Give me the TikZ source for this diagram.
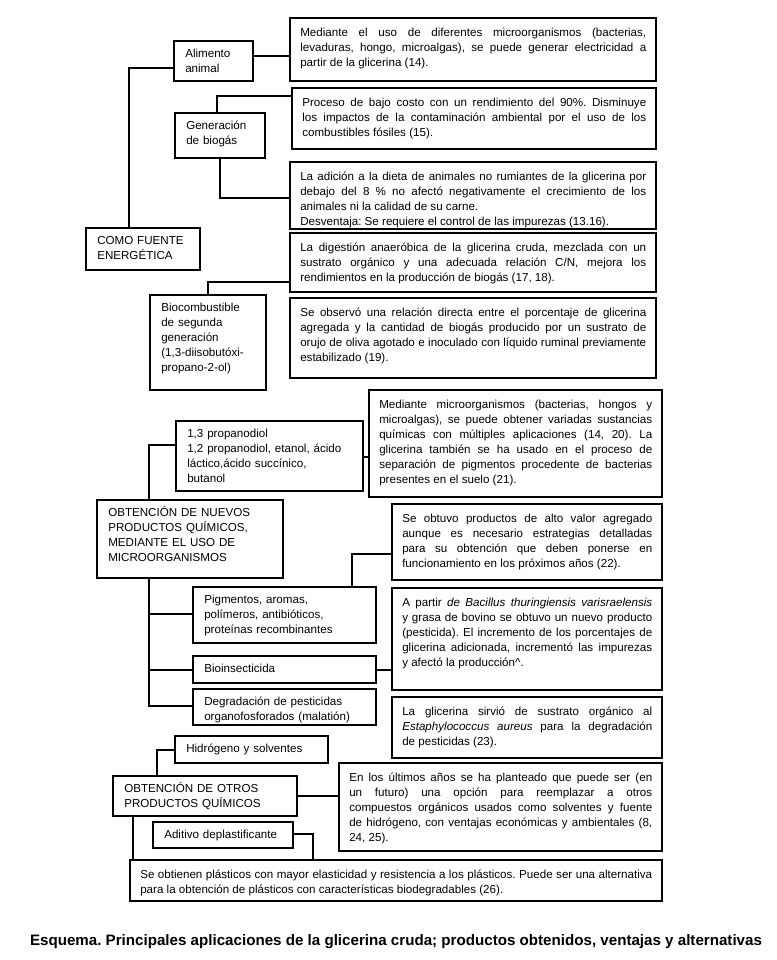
\documentclass[tikz,border=0pt]{standalone}
\usepackage{fontspec}
\usepackage{graphicx}
\setmainfont{Liberation Sans}
\usetikzlibrary{fit}
\hyphenpenalty=10000
\exhyphenpenalty=10000
\tolerance=9999
\frenchspacing
\tikzset{
  frame/.style={draw=black, line width=2pt, inner sep=0pt, rectangle},
  lframe/.style={draw=black, line width=1.8pt, inner sep=0pt, rectangle},
  txt/.style={inner sep=0pt, font=\fontsize{8.7}{11.2}\selectfont},
  conn/.style={draw=black, line width=2pt},
}
\newcommand\RBox[6]{%
  \node[frame, fit={(#2,#3)(#4,#5)}] (#1) {};
  \pgfmathsetlengthmacro\tw{(#4-#2-20)*0.75}%
  \node[txt, text width=\tw, align=justify, anchor=north west] (#1t) at (#2+10,#3+8) {\strut #6};
}
\newcommand\LBox[6]{%
  \node[lframe, fit={(#2,#3)(#4,#5)}] (#1) {};
  \pgfmathsetlengthmacro\tw{(#4-#2-16)*0.75}%
  \node[txt, text width=\tw, align=left, anchor=north west] (#1t) at (#2+11,#3+6) {\strut #6};
}
\begin{document}
\frenchspacing
\begin{tikzpicture}[x=0.75pt, y=-0.75pt]
\fill[white] (0,0) rectangle (776,960);
\useasboundingbox (0,0) rectangle (776,960);

\RBox{b1}{290}{18}{656}{81}{Mediante el uso de diferentes microorganismos (bacterias,\linebreak levaduras, hongo, microalgas), se puede generar electricidad a\linebreak partir de la glicerina (14).}
\LBox{alim}{174}{41}{253}{81}{Alimento\\animal}
\RBox{b2}{292}{88}{656}{149}{Proceso de bajo costo con un rendimiento del 90\%. Disminuye\linebreak los impactos de la contaminación ambiental por el uso de los\linebreak combustibles fósiles (15).}
\LBox{gen}{175}{113}{265}{158}{Generación\\de biogás}
\RBox{b3}{290}{162}{656}{229}{La adición a la dieta de animales no rumiantes de la glicerina por\linebreak debajo del 8 \% no afectó negativamente el crecimiento de los\linebreak animales ni la calidad de su carne.\newline Desventaja: Se requiere el control de las impurezas (13.16).}
\LBox{como}{86}{228}{200}{270}{COMO FUENTE\\ENERGÉTICA}
\RBox{b4}{290}{233}{656}{292}{La digestión anaeróbica de la glicerina cruda, mezclada con un\linebreak sustrato orgánico y una adecuada relación C/N, mejora los\linebreak rendimientos en la producción de biogás (17, 18).}
\LBox{bio}{150}{295}{266}{390}{Biocombustible\\de segunda\\generación\\(1,3-diisobutóxi-\\propano-2-ol)}
\RBox{b5}{290}{298}{656}{378}{Se observó una relación directa entre el porcentaje de glicerina\linebreak agregada y la cantidad de biogás producido por un sustrato de\linebreak orujo de oliva agotado e inoculado con líquido ruminal previamente\linebreak estabilizado (19).}
\RBox{b6}{369}{390}{662}{497}{Mediante microorganismos (bacterias, hongos y\linebreak microalgas), se puede obtener variadas sustancias\linebreak químicas con múltiples aplicaciones (14, 20). La\linebreak glicerina también se ha usado en el proceso de\linebreak separación de pigmentos procedente de bacterias\linebreak presentes en el suelo (21).}
\LBox{prop}{176}{421}{363}{491}{1,3 propanodiol\\1,2 propanodiol, etanol, ácido\\láctico,ácido succínico,\\butanol}
\LBox{nuevos}{97}{500}{283}{578}{OBTENCIÓN DE NUEVOS\\PRODUCTOS QUÍMICOS,\\MEDIANTE EL USO DE\\MICROORGANISMOS}
\RBox{b7}{392}{504}{662}{580}{Se obtuvo productos de alto valor agregado\linebreak aunque es necesario estrategias detalladas\linebreak para su obtención que deben ponerse en\linebreak funcionamiento en los próximos años (22).}
\LBox{pig}{193}{587}{376}{643}{Pigmentos, aromas,\\polímeros, antibióticos,\\proteínas recombinantes}
\RBox{b8}{392}{588}{662}{690}{A partir \textit{de Bacillus thuringiensis varisraelensis}\linebreak y grasa de bovino se obtuvo un nuevo producto\linebreak (pesticida). El incremento de los porcentajes de\linebreak glicerina adicionada, incrementó las impurezas\linebreak y afectó la producción\textasciicircum.}
\LBox{bioin}{193}{656}{376}{683}{Bioinsecticida}
\LBox{degr}{193}{689}{376}{725}{Degradación de pesticidas\\organofosforados (malatión)}
\RBox{b9}{392}{697}{662}{758}{La glicerina sirvió de sustrato orgánico al\linebreak \textit{Estaphylococcus aureus} para la degradación\linebreak de pesticidas (23).}
\LBox{hid}{175}{736}{328}{763}{Hidrógeno y solventes}
\LBox{otros}{113}{776}{297}{816}{OBTENCIÓN DE OTROS\\PRODUCTOS QUÍMICOS}
\RBox{b10}{339}{763}{662}{851}{En los últimos años se ha planteado que puede ser (en\linebreak un futuro) una opción para reemplazar a otros\linebreak compuestos orgánicos usados como solventes y fuente\linebreak de hidrógeno, con ventajas económicas y ambientales (8,\linebreak 24, 25).}
\LBox{adit}{153}{822}{293}{848}{Aditivo deplastificante}
\RBox{b11}{130}{860}{662}{901}{Se obtienen plásticos con mayor elasticidad y resistencia a los plásticos. Puede ser una alternativa\linebreak para la obtención de plásticos con características biodegradables (26).}

% connectors
\draw[conn] (como.north -| 129,0) |- (alim.west |- 0,68);
\draw[conn] (alim.east |- 0,56) -- (b1.west |- 0,56);
\draw[conn] (gen.north -| 217,0) |- (b2.west |- 0,96);
\draw[conn] (gen.south -| 220,0) |- (b3.west |- 0,198);
\draw[conn] (b4.west |- 0,282) -| (bio.north -| 208,0);
\draw[conn] (prop.east |- 0,457) -- (b6.west |- 0,457);
\draw[conn] (nuevos.north -| 149,0) |- (prop.west |- 0,445);
\draw[conn] (nuevos.south -| 149,0) |- (degr.west |- 0,706);
\coordinate (j1) at (149,614);
\coordinate (j2) at (149,670);
\draw[conn] (j1) -- (pig.west |- j1);
\draw[conn] (j2) -- (bioin.west |- j2);
\draw[conn] (pig.north -| 352,0) |- (b7.west |- 0,554);
\draw[conn] (bioin.east |- 0,670) -- (b8.west |- 0,670);
\draw[conn] (otros.north -| 157,0) |- (hid.west |- 0,750);
\draw[conn] (otros.east |- 0,796) -- (b10.west |- 0,796);
\draw[conn] (otros.south -| 133,0) -- (b11.north -| 133,0);
\draw[conn] (adit.east |- 0,834) -| (b11.north -| 313,0);

\node[inner sep=0pt] (cap) at (396,942) {\resizebox{549pt}{!}{\bfseries Esquema. Principales aplicaciones de la glicerina cruda; productos obtenidos, ventajas y alternativas}};
\end{tikzpicture}
\end{document}
